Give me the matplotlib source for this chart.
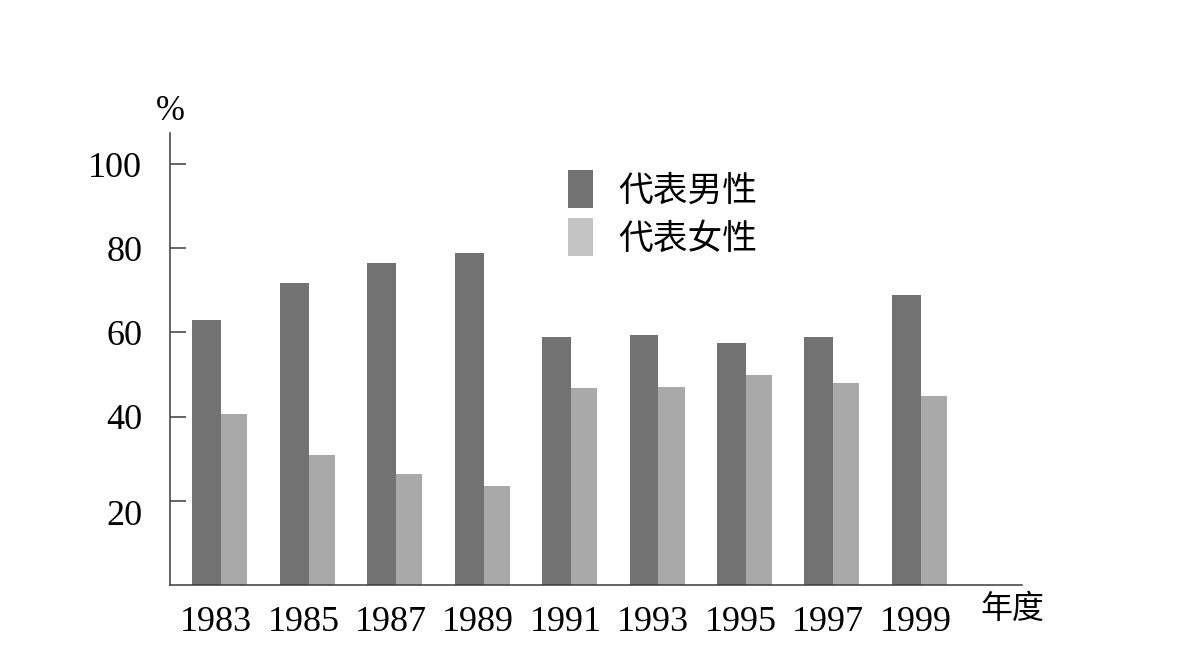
import matplotlib.pyplot as plt
import numpy as np
from matplotlib.patches import Patch
from matplotlib.transforms import ScaledTranslation

# 数据
anos = ['1983', '1985', '1987', '1989', '1991', '1993', '1995', '1997', '1999']
homens = [62.9, 71.8, 76.4, 79.0, 59.0, 59.5, 57.6, 59.0, 68.8]
mulheres = [40.6, 31.0, 26.4, 23.4, 46.7, 47.1, 49.8, 48.1, 44.8]
yticks = [20, 40, 60, 80, 100]

cor_h = '#727272'
cor_m = '#a9a9a9'
cor_m_leg = '#c3c3c3'
cor_eixo = '#3c3c3c'

cjk = ['Noto Sans CJK SC', 'DejaVu Sans']
serif = 'Liberation Serif'

fig = plt.figure(figsize=(11.88, 6.69), dpi=100)
ax = fig.add_axes([0.1431, 0.1256, 0.7172, 0.6756])

x = np.arange(len(anos))
ax.bar(x + 0.06, homens, width=-0.33, align='edge', color=cor_h, linewidth=0)
ax.bar(x + 0.06, mulheres, width=0.30, align='edge', color=cor_m, linewidth=0)

ax.set_xlim(-0.526, 9.22)
ax.set_ylim(0, 107.4)

for s in ['top', 'right']:
    ax.spines[s].set_visible(False)
for s in ['left', 'bottom']:
    ax.spines[s].set_color(cor_eixo)
    ax.spines[s].set_linewidth(1.1)

ax.set_yticks(yticks)
ax.set_yticklabels([str(v) for v in yticks], fontfamily=serif, fontsize=26)
ax.tick_params(axis='y', direction='in', length=11.5, width=1.1, color=cor_eixo, pad=20)
# o "20" fica um pouco abaixo do traço no original
lbl20 = ax.get_yticklabels()[0]
lbl20.set_transform(lbl20.get_transform() + ScaledTranslation(0, -0.12, fig.dpi_scale_trans))

ax.set_xticks(x)
ax.set_xticklabels(anos, fontfamily=serif, fontsize=26)
ax.tick_params(axis='x', length=0, pad=15)

# 单位标注
ax.text(0.0, 1.012, '%', transform=ax.transAxes, ha='center', va='bottom',
        fontfamily=serif, fontsize=25)
fig.text(0.825, 0.0897, '年度', ha='left', va='center', family=cjk, fontsize=23)

handles = [Patch(facecolor=cor_h, linewidth=0), Patch(facecolor=cor_m_leg, linewidth=0)]
leg = ax.legend(handles, ['代表男性', '代表女性'], loc='upper left',
                bbox_to_anchor=(0.478, 0.746), bbox_transform=fig.transFigure,
                frameon=False, borderpad=0, borderaxespad=0,
                handlelength=0.72, handleheight=1.3, handletextpad=0.72,
                labelspacing=0.28, prop={'family': cjk, 'size': 25})

plt.savefig('out.png', dpi=100)
